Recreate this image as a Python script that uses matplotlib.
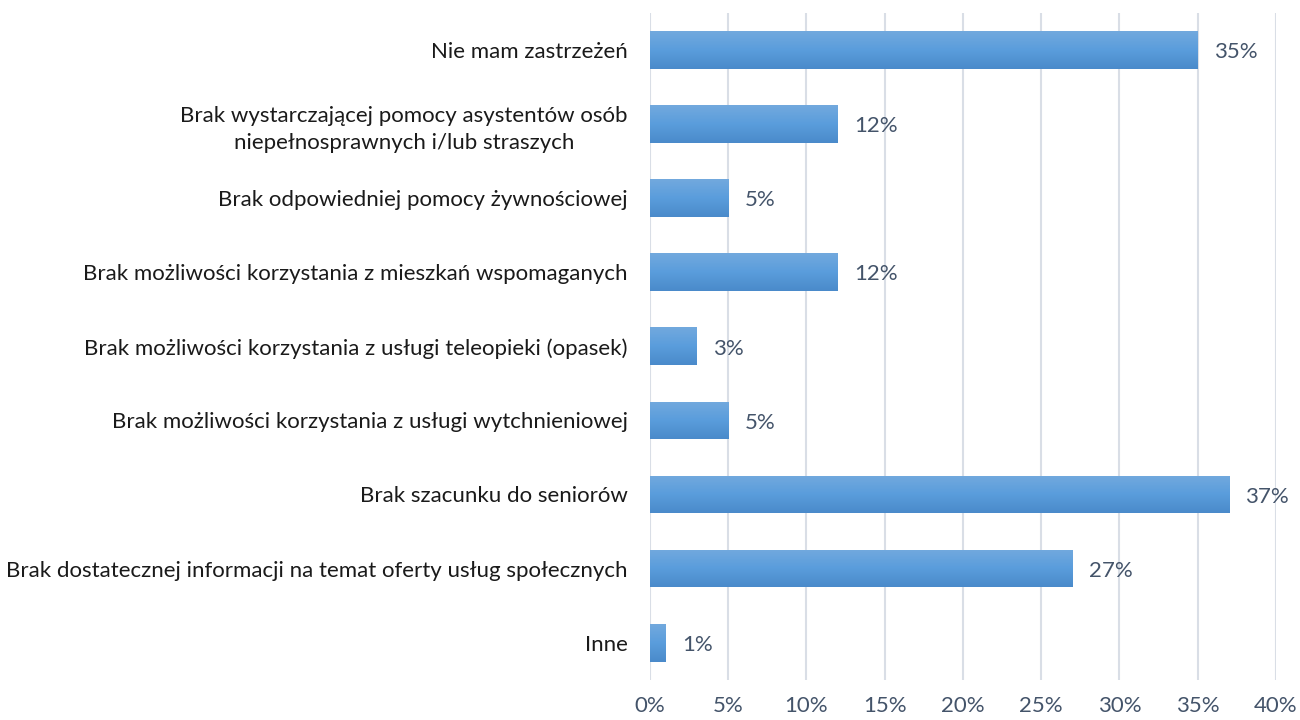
import matplotlib
matplotlib.use("Agg")
import matplotlib.pyplot as plt
import numpy as np
from matplotlib.colors import LinearSegmentedColormap

categories = [
    "Nie mam zastrzeżeń",
    "Brak wystarczającej pomocy asystentów osób\nniepełnosprawnych i/lub straszych",
    "Brak odpowiedniej pomocy żywnościowej",
    "Brak możliwości korzystania z mieszkań wspomaganych",
    "Brak możliwości korzystania z usługi teleopieki (opasek)",
    "Brak możliwości korzystania z usługi wytchnieniowej",
    "Brak szacunku do seniorów",
    "Brak dostatecznej informacji na temat oferty usług społecznych",
    "Inne",
]
values = [35, 12, 5, 12, 3, 5, 37, 27, 1]
xticks = [0, 5, 10, 15, 20, 25, 30, 35, 40]

plt.rcParams['font.family'] = ['Lato', 'DejaVu Sans']

fig = plt.figure(figsize=(13, 7.2), dpi=100)
ax = fig.add_axes([0.5, 0.056, 0.4815, 0.926])

y = np.arange(len(categories))
bars = ax.barh(y, values, height=0.51, color="#5B9BD5", zorder=2)

grad = np.linspace(0, 1, 100).reshape(-1, 1)
cmap = LinearSegmentedColormap.from_list("g", ["#72A9DE", "#5A9DDC", "#4A8ACA"])
for b in bars:
    x0, y0 = b.get_x(), b.get_y()
    w, h = b.get_width(), b.get_height()
    im = ax.imshow(grad, extent=[x0, x0 + w, y0 + h, y0], aspect='auto',
                   cmap=cmap, zorder=3, origin='upper')
    im.set_clip_path(b)

ax.set_ylim(len(categories) - 0.5, -0.5)
ax.set_xlim(0, 40)
ax.set_xticks(xticks)
ax.set_xticklabels([f"{t}%" for t in xticks], fontsize=16, color="#44546A")
ax.set_yticks(y)
ax.set_yticklabels(categories, fontsize=16, color="#1a1a1a")
for lab in ax.get_yticklabels():
    lab.set_horizontalalignment('right')
    lab.set_multialignment('center')
    lab.set_linespacing(1.45)
ax.tick_params(axis='y', length=0, pad=16)
ax.tick_params(axis='x', length=0, pad=12)

ax.grid(axis='x', color="#D9DEE6", linewidth=1.5, zorder=0)
for s in ax.spines.values():
    s.set_visible(False)

for yi, v in zip(y, values):
    ax.text(v + 1.05, yi + 0.03, f"{v}%", va='center', ha='left', fontsize=16,
            color="#44546A", zorder=4)

fig.savefig("out.png", dpi=100)
